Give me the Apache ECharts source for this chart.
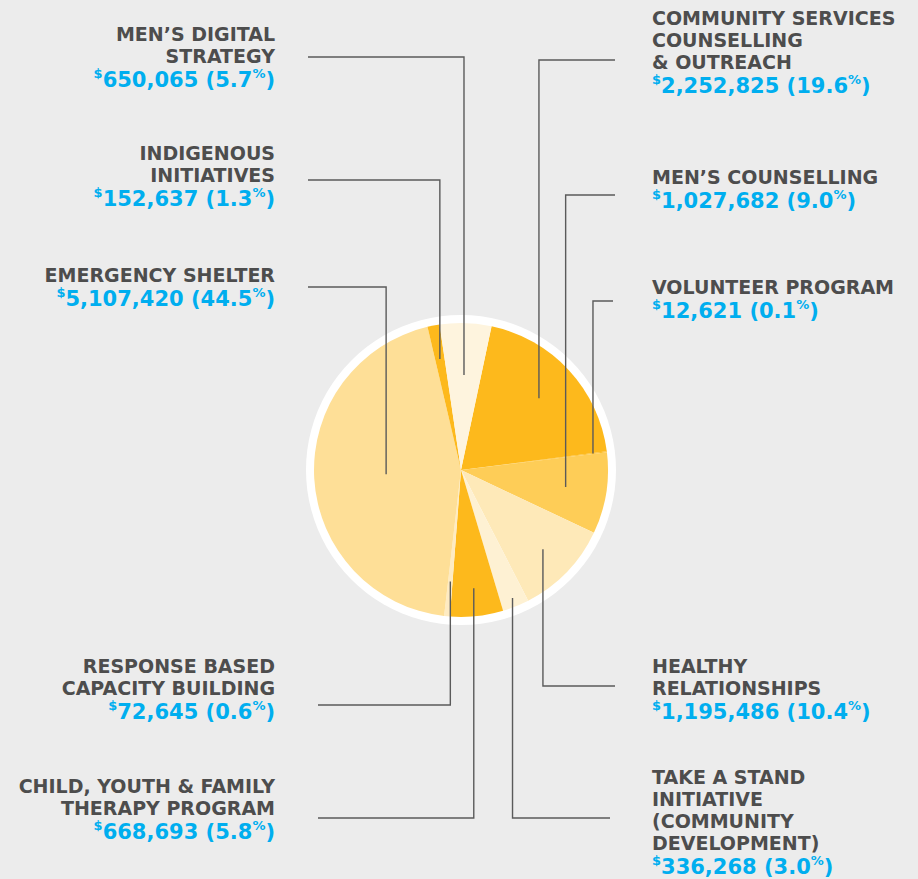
<!DOCTYPE html>
<html>
<head>
<meta charset="utf-8">
<script src="https://cdn.jsdelivr.net/npm/echarts@6/dist/echarts.min.js"></script>
<style>
  html, body { margin: 0; padding: 0; background: #ececec; }
  #chart { width: 918px; height: 879px; }
</style>
</head>
<body>
<div id="chart"></div>
<script>
// data, clockwise from the top of the pie
const programs = [
  'COMMUNITY SERVICES\nCOUNSELLING\n& OUTREACH',
  'VOLUNTEER PROGRAM',
  'MEN’S COUNSELLING',
  'HEALTHY\nRELATIONSHIPS',
  'TAKE A STAND\nINITIATIVE\n(COMMUNITY\nDEVELOPMENT)',
  'CHILD, YOUTH & FAMILY\nTHERAPY PROGRAM',
  'RESPONSE BASED\nCAPACITY BUILDING',
  'EMERGENCY SHELTER',
  'INDIGENOUS\nINITIATIVES',
  'MEN’S DIGITAL\nSTRATEGY',
];
const amounts = [2252825, 12621, 1027682, 1195486, 336268, 668693, 72645, 5107420, 152637, 650065];
const shares = ['19.6', '0.1', '9.0', '10.4', '3.0', '5.8', '0.6', '44.5', '1.3', '5.7'];
const sliceColors = ['#fdb91c', '#fdb91c', '#fecd57', '#fee9b8', '#fef1d3',
  '#fdb91c', '#feebc2', '#fedf97', '#fdb91c', '#fef4de'];

// label placement
const labelSide = ['right', 'right', 'right', 'right', 'right', 'left', 'left', 'left', 'left', 'left'];
const firstLineY = [18, 287, 177, 666, 777, 786, 666, 275, 153, 34];
const elbowY = [60, 301, 195, 686, 818, 818, 705, 287, 180, 57];
const lineEndX = [615, 613, 615, 615, 610, 318, 318, 308, 308, 308];
const anchorRadius = [106, 133, 106, 114, 138, 119, 112, 75, 113, 95];

const CX = 461;
const CY = 470;
const R = 147;
const START = 78;
const FONT = 'DejaVu Sans';

const myChart = echarts.init(document.getElementById('chart'), null, { renderer: 'svg' });

const fmt = (n) => n.toLocaleString('en-US');
const total = amounts.reduce((a, b) => a + b, 0);

// point inside slice i, along its middle angle
const anchorOf = (i) => {
  let before = 0;
  for (let k = 0; k < i; k += 1) before += amounts[k];
  const mid = (before + amounts[i] / 2) / total;
  const theta = ((90 - START) + mid * 360) * Math.PI / 180;
  return [CX + anchorRadius[i] * Math.sin(theta), CY - anchorRadius[i] * Math.cos(theta)];
};

const option = {
  backgroundColor: '#ececec',
  animation: false,
  series: [
    { // white ring
      type: 'pie',
      center: [CX, CY],
      radius: [0, R + 8],
      silent: true,
      label: { show: false },
      labelLine: { show: false },
      itemStyle: { color: '#ffffff' },
      data: [{ value: 1 }],
      z: 1,
    },
    {
      type: 'pie',
      center: [CX, CY],
      radius: [0, R],
      startAngle: START,
      clockwise: true,
      avoidLabelOverlap: false,
      emphasis: { disabled: true },
      z: 2,
      itemStyle: { borderWidth: 0 },
      data: amounts.map((v, i) => ({
        value: v,
        name: programs[i],
        itemStyle: { color: sliceColors[i] },
      })),
      label: {
        show: true,
        position: 'outside',
        formatter: (p) => {
          const i = p.dataIndex;
          const names = programs[i].split('\n').map((s) => `{n|${s}}`).join('\n');
          return `${names}\n{s|$}{v|${fmt(amounts[i])} (${shares[i]}}{s|%}{v|)}`;
        },
        rich: {
          n: { fontFamily: FONT, fontWeight: 'bold', fontSize: 19, lineHeight: 22, color: '#4d4d4d' },
          v: { fontFamily: FONT, fontWeight: 'bold', fontSize: 21, lineHeight: 26, color: '#00aeef' },
          s: { fontFamily: FONT, fontWeight: 'bold', fontSize: 13, lineHeight: 19, color: '#00aeef', verticalAlign: 'top' },
        },
      },
      labelLine: { show: false },
      labelLayout: (params) => {
        const left = labelSide[params.dataIndex] === 'left';
        return {
          x: left ? 275 : 652,
          y: firstLineY[params.dataIndex] - 11,
          align: left ? 'right' : 'left',
          verticalAlign: 'top',
        };
      },
    },
    { // leader lines, drawn above the slices
      type: 'custom',
      coordinateSystem: 'none',
      silent: true,
      z: 5,
      data: amounts.map((v, i) => i),
      renderItem: (params) => {
        const i = params.dataIndex;
        const a = anchorOf(i);
        return {
          type: 'polyline',
          shape: { points: [a, [a[0], elbowY[i]], [lineEndX[i], elbowY[i]]] },
          style: { stroke: '#5a5a5a', lineWidth: 1.4, fill: null },
        };
      },
    },
  ],
};

myChart.setOption(option);
</script>
</body>
</html>
